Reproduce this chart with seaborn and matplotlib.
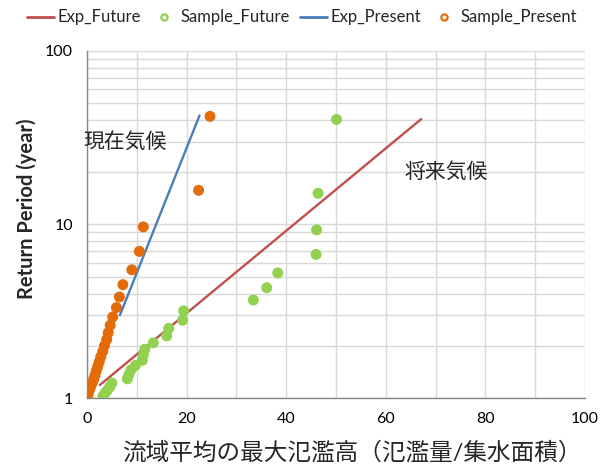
import matplotlib
matplotlib.use("Agg")
import matplotlib.pyplot as plt
from matplotlib.lines import Line2D
from matplotlib.ticker import FixedLocator, NullFormatter
import numpy as np
import pandas as pd
import seaborn as sns

# Sample maxima (flood height) and their return periods, present climate
present_x = [24.7, 22.4, 11.3, 10.5, 9.0, 7.2, 6.5, 5.9, 5.15, 4.65,
             4.25, 3.95, 3.5, 3.15, 2.75, 2.45, 2.15, 1.85, 1.6, 1.35,
             1.05, 0.75, 0.5, 0.3, 0.1]
present_T = [42.0, 15.75, 9.69, 7.00, 5.48, 4.50, 3.82, 3.32, 2.93, 2.625,
             2.377, 2.172, 2.0, 1.853, 1.726, 1.615, 1.518, 1.432, 1.355, 1.286,
             1.223, 1.167, 1.115, 1.068, 1.024]

# Sample maxima and return periods, future climate
future_x = [50.1, 46.4, 46.1, 46.0, 38.3, 36.1, 33.4, 19.4, 19.2, 16.4,
            16.0, 13.3, 11.6, 11.3, 11.1, 9.7, 8.8, 8.4, 8.1, 5.0,
            4.6, 4.1, 3.6, 3.2]
future_T = [40.33, 15.13, 9.31, 6.72, 5.26, 4.32, 3.67, 3.18, 2.81, 2.52,
            2.28, 2.08, 1.91, 1.77, 1.65, 1.54, 1.45, 1.36, 1.29, 1.22,
            1.16, 1.11, 1.065, 1.025]

# Fitted exponential distributions
exp_present_x = [6.6, 22.6]
exp_present_T = [3.0, 42.5]
exp_future_x = [2.6, 67.1]
exp_future_T = [1.19, 40.5]

x_ticks = [0, 20, 40, 60, 80, 100]
y_ticks = [1, 10, 100]
y_tick_labels = ["1", "10", "100"]

COL_EXP_F = "#C0504D"
COL_SMP_F = "#92D050"
COL_EXP_P = "#4A7EBB"
COL_SMP_P = "#E36C09"

sns.set_theme(style="white")
plt.rcParams["font.family"] = ["Lato", "Noto Sans CJK JP", "DejaVu Sans"]

samples = pd.concat([
    pd.DataFrame({"x": future_x, "T": future_T, "series": "Sample_Future"}),
    pd.DataFrame({"x": present_x, "T": present_T, "series": "Sample_Present"}),
], ignore_index=True)
fits = pd.concat([
    pd.DataFrame({"x": exp_future_x, "T": exp_future_T, "series": "Exp_Future"}),
    pd.DataFrame({"x": exp_present_x, "T": exp_present_T, "series": "Exp_Present"}),
], ignore_index=True)

fig = plt.figure(figsize=(6.01, 4.66), dpi=100)
ax = fig.add_axes([0.1448, 0.1459, 0.8286, 0.7447])

sns.lineplot(data=fits, x="x", y="T", hue="series", sort=False, estimator=None,
             palette={"Exp_Future": COL_EXP_F, "Exp_Present": COL_EXP_P},
             linewidth=1.7, legend=False, ax=ax, zorder=3)
sns.scatterplot(data=samples, x="x", y="T", hue="series",
                palette={"Sample_Future": COL_SMP_F, "Sample_Present": COL_SMP_P},
                s=50, marker="o", linewidth=0.8, edgecolor="face",
                legend=False, ax=ax, zorder=4)

ax.set_yscale("log")
ax.set_xlim(0, 100)
ax.set_ylim(1, 100)
ax.xaxis.set_major_locator(FixedLocator(x_ticks))
ax.xaxis.set_minor_locator(FixedLocator(np.arange(10, 100, 20)))
ax.set_xticklabels([str(v) for v in x_ticks])
ax.yaxis.set_major_locator(FixedLocator(y_ticks))
ax.set_yticklabels(y_tick_labels)
ax.yaxis.set_minor_locator(FixedLocator([m * d for d in (1, 10) for m in range(2, 10)]))
ax.yaxis.set_minor_formatter(NullFormatter())

ax.grid(True, which="both", color="#D9D9D9", linewidth=1.0)
ax.set_axisbelow(True)
for side in ("top", "right"):
    ax.spines[side].set_visible(False)
for side in ("left", "bottom"):
    ax.spines[side].set_color("#868686")
    ax.spines[side].set_linewidth(1.0)
ax.tick_params(axis="both", which="both", length=0, labelsize=11.5, colors="#000000", pad=10)

ax.set_xlabel("流域平均の最大氾濫高（氾濫量/集水面積）", fontsize=17)
ax.xaxis.set_label_coords(0.532, -0.125)
ax.set_ylabel("Return Period (year)", fontsize=14.5, fontweight="bold")
ax.yaxis.set_label_coords(-0.1, 0.545)

ax.text(-0.8, 29.9, "現在気候", fontsize=15, ha="left", va="center")
ax.text(63.7, 20.0, "将来気候", fontsize=15, ha="left", va="center")

handles = [
    Line2D([], [], color=COL_EXP_F, linewidth=2.0),
    Line2D([], [], color=COL_SMP_F, marker="o", markersize=4.5, markerfacecolor="none",
           markeredgewidth=1.6, linestyle="none"),
    Line2D([], [], color=COL_EXP_P, linewidth=2.0),
    Line2D([], [], color=COL_SMP_P, marker="o", markersize=4.5, markerfacecolor="none",
           markeredgewidth=1.6, linestyle="none"),
]
labels = ["Exp_Future", "Sample_Future", "Exp_Present", "Sample_Present"]
fig.legend(handles, labels, loc="upper center", bbox_to_anchor=(0.503, 1.012), ncol=4,
           frameon=False, fontsize=12, handlelength=1.6, handletextpad=0.2,
           columnspacing=0.6)

fig.savefig("out.png", dpi=100)
